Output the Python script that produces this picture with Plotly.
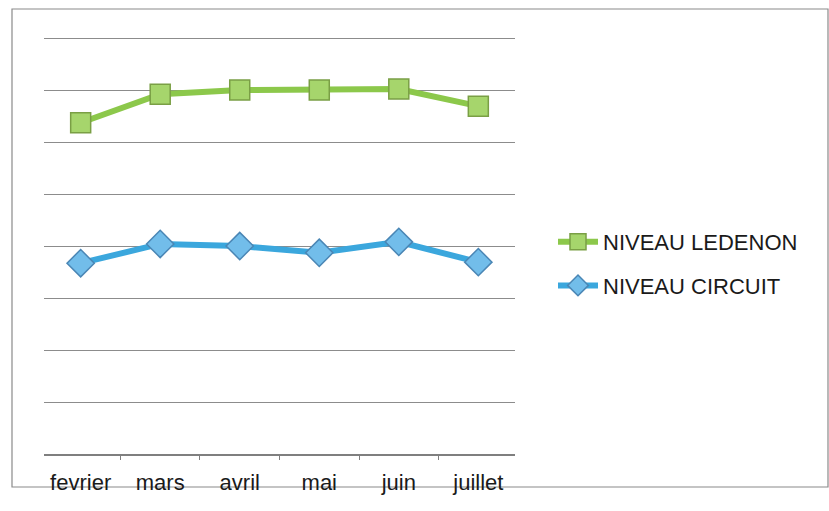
import plotly.graph_objects as go

# Monthly levels for the two sites (one gridline = 1 unit)
mois = ["fevrier", "mars", "avril", "mai", "juin", "juillet"]
niveau_ledenon = [6.37, 6.92, 7.0, 7.0, 7.02, 6.69]
niveau_circuit = [3.67, 4.04, 4.0, 3.87, 4.08, 3.69]

W, H = 829, 511
L, R, T, B = 44, 314, 37, 57
pw, ph = W - L - R, H - T - B

fig = go.Figure()
fig.add_trace(go.Scatter(
    x=mois, y=niveau_ledenon, name="NIVEAU LEDENON", mode="lines+markers",
    legendgroup="a",
    line=dict(color="#8cc84b", width=6),
    marker=dict(symbol="square", size=20, color="#a6d56c",
                line=dict(color="#7a9f45", width=1.5)),
))
fig.add_trace(go.Scatter(
    x=mois, y=niveau_circuit, name="NIVEAU CIRCUIT", mode="lines+markers",
    legendgroup="b",
    line=dict(color="#3ba7dd", width=6),
    marker=dict(symbol="diamond", size=21, color="#72bdea",
                line=dict(color="#4a86b5", width=1.5)),
))

# outer chart frame
def px_x(px):
    return (px - L) / pw

def px_y(py):
    return (H - B - py) / ph

fig.add_shape(type="rect", xref="paper", yref="paper",
              x0=px_x(12), x1=px_x(828), y0=px_y(487), y1=px_y(9),
              line=dict(color="#8a8a8a", width=1.2), layer="below")

fig.update_layout(
    width=W, height=H,
    margin=dict(l=L, r=R, t=T, b=B),
    paper_bgcolor="white", plot_bgcolor="white",
    font=dict(family="Liberation Sans, Arial, sans-serif", color="#222222"),
    showlegend=True,
    legend=dict(x=px_x(553), y=px_y(264), xanchor="left", yanchor="middle",
                font=dict(size=22, color="#1a1a1a"), itemwidth=40,
                tracegroupgap=12, bgcolor="rgba(0,0,0,0)"),
    xaxis=dict(type="category", showgrid=False, showline=True,
               linecolor="#7f7f7f", linewidth=1.5,
               ticks="outside", tickson="boundaries", ticklen=4,
               tickcolor="#7f7f7f", tickfont=dict(size=22, color="#1a1a1a"),
               ticklabelstandoff=8, zeroline=False),
    yaxis=dict(range=[0, 8.02], tick0=0, dtick=1, showticklabels=False,
               showgrid=True, gridcolor="#8c8c8c", gridwidth=1.2,
               zeroline=False, showline=False, ticks=""),
)

fig.write_html("out.html")
